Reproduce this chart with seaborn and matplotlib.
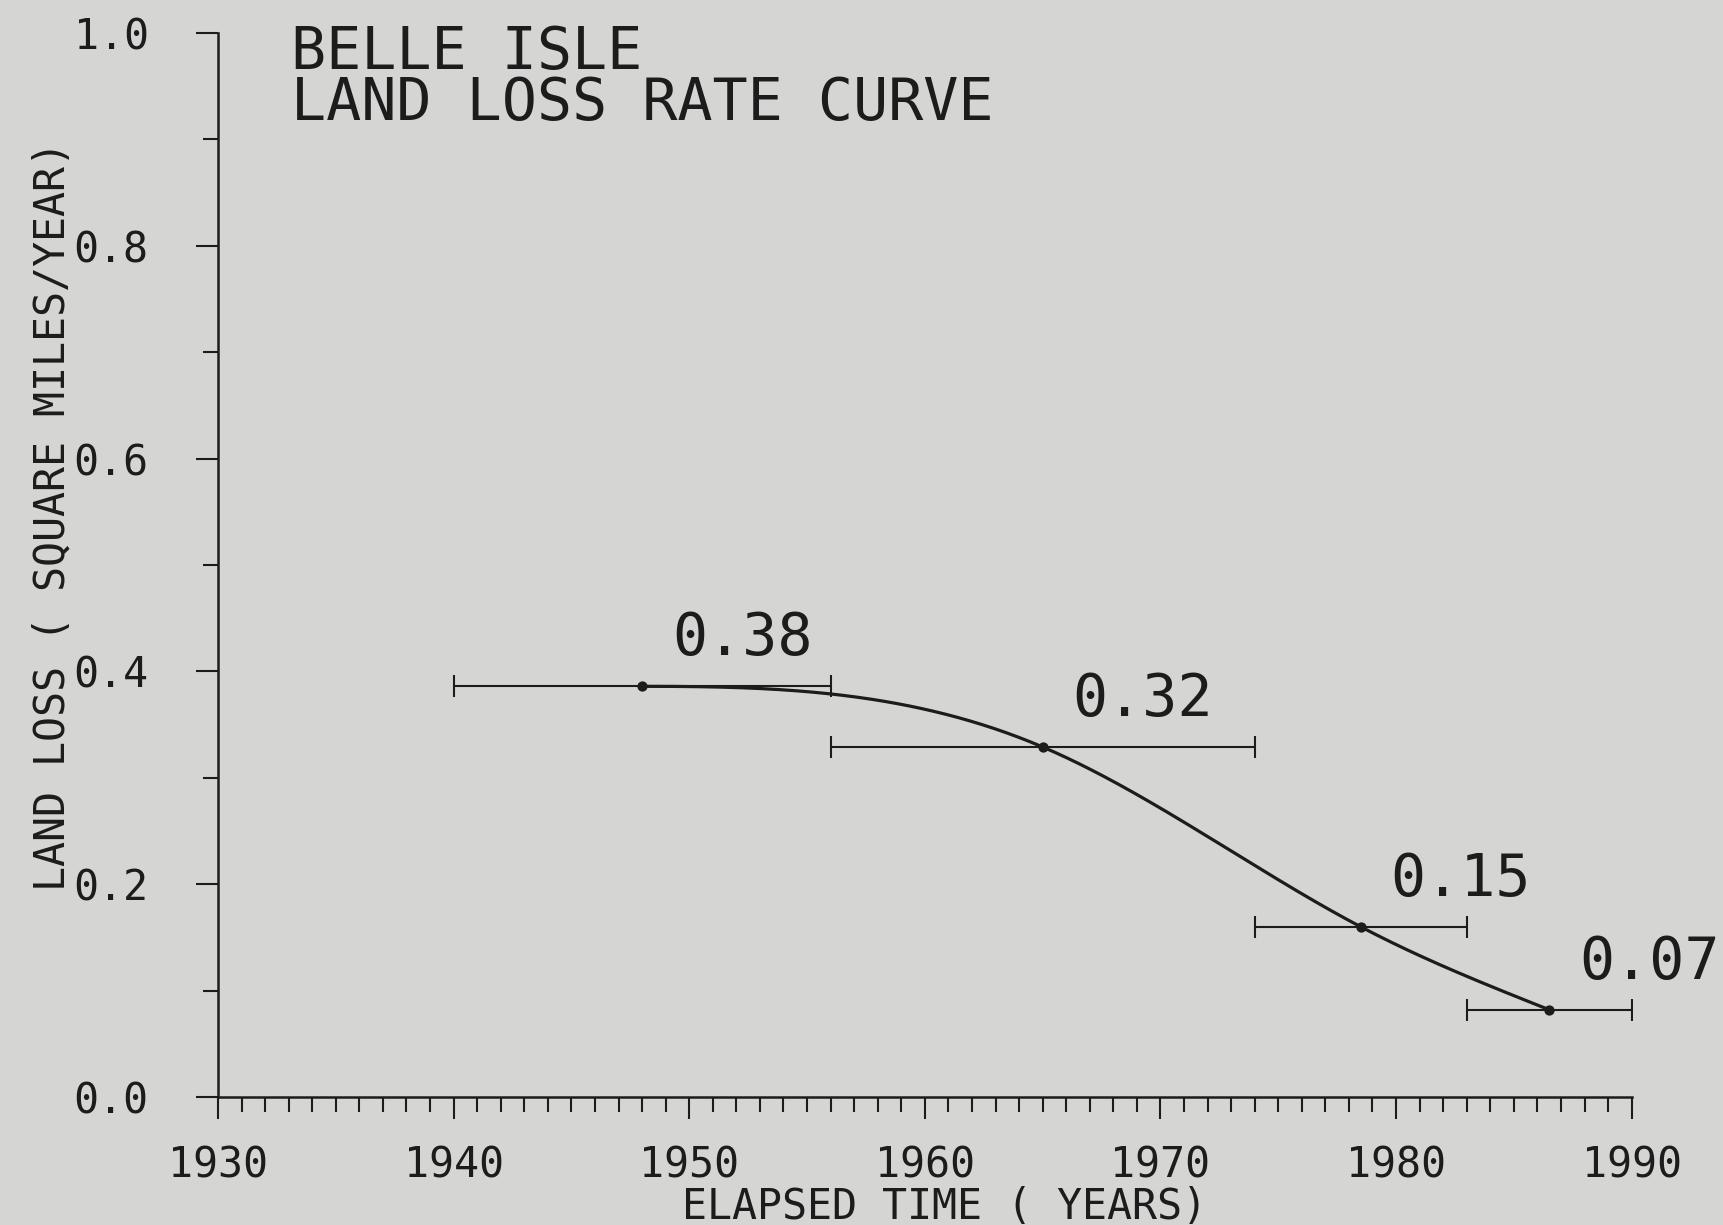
import numpy as np
import pandas as pd
import seaborn as sns
import matplotlib.pyplot as plt
from matplotlib.ticker import MultipleLocator, FormatStrFormatter

# period mid-points and land loss rates
years = [1948, 1965, 1978.5, 1986.5]
rates = [0.386, 0.329, 0.16, 0.082]
period_start = [1940, 1956, 1974, 1983]
period_end = [1956, 1974, 1983, 1990]
rate_labels = ['0.38', '0.32', '0.15', '0.07']

title = 'BELLE ISLE\nLAND LOSS RATE CURVE'
x_label = 'ELAPSED TIME ( YEARS)'
y_label = 'LAND LOSS ( SQUARE MILES/YEAR)'

PAPER = '#d5d5d3'
INK = '#1c1c1c'


def spline_curve(x, y, n=300):
    # cubic spline: flat start, natural end (like the plotter's fitted curve)
    x = np.asarray(x, float)
    y = np.asarray(y, float)
    h = np.diff(x)
    d = np.diff(y) / h
    k = len(x)
    A = np.zeros((k, k))
    b = np.zeros(k)
    A[0, 0] = 1.0
    for i in range(1, k - 1):
        A[i, i - 1] = h[i]
        A[i, i] = 2 * (h[i - 1] + h[i])
        A[i, i + 1] = h[i - 1]
        b[i] = 3 * (h[i] * d[i - 1] + h[i - 1] * d[i])
    A[-1, -2] = 1.0
    A[-1, -1] = 2.0
    b[-1] = 3 * d[-1]
    m = np.linalg.solve(A, b)
    xs = np.linspace(x[0], x[-1], n)
    idx = np.clip(np.searchsorted(x, xs) - 1, 0, len(h) - 1)
    t = (xs - x[idx]) / h[idx]
    h00 = 2 * t**3 - 3 * t**2 + 1
    h10 = t**3 - 2 * t**2 + t
    h01 = -2 * t**3 + 3 * t**2
    h11 = t**3 - t**2
    ys = h00 * y[idx] + h10 * h[idx] * m[idx] + h01 * y[idx + 1] + h11 * h[idx] * m[idx + 1]
    return xs, ys


df = pd.DataFrame({'year': years, 'rate': rates,
                   'start': period_start, 'end': period_end, 'label': rate_labels})

sns.set_theme(style='ticks', rc={
    'figure.facecolor': PAPER, 'axes.facecolor': PAPER,
    'axes.edgecolor': INK, 'axes.linewidth': 1.8,
    'xtick.color': INK, 'ytick.color': INK, 'text.color': INK,
    'axes.labelcolor': INK,
})
plt.rcParams['font.family'] = ['DejaVu Sans Mono', 'DejaVu Sans']

fig = plt.figure(figsize=(17.23, 12.25), dpi=100)
ax = fig.add_axes([0.1265, 0.1045, 0.947 - 0.1265, 0.973 - 0.1045])

# smooth rate curve
cx, cy = spline_curve(df['year'], df['rate'])
sns.lineplot(x=cx, y=cy, ax=ax, color=INK, linewidth=2.3, sort=False)

# horizontal bars showing each photo period
ax.errorbar(df['year'], df['rate'],
            xerr=[df['year'] - df['start'], df['end'] - df['year']],
            fmt='none', ecolor=INK, elinewidth=1.5, capsize=8, capthick=1.5)
sns.scatterplot(data=df, x='year', y='rate', ax=ax, color=INK, s=55,
                edgecolor=INK, linewidth=0, zorder=5)

for _, r in df.iterrows():
    ax.annotate(r['label'], (r['year'], r['rate']), xytext=(30, 31),
                textcoords='offset pixels', fontsize=42, ha='left', va='baseline')

ax.set_xlim(1930, 1990)
ax.set_ylim(0, 1.0)
ax.xaxis.set_major_locator(MultipleLocator(10))
ax.xaxis.set_minor_locator(MultipleLocator(1))
ax.yaxis.set_major_locator(MultipleLocator(0.2))
ax.yaxis.set_minor_locator(MultipleLocator(0.1))
ax.yaxis.set_major_formatter(FormatStrFormatter('%.1f'))
ax.tick_params(axis='both', which='major', direction='out', length=16, width=1.5,
               labelsize=30)
ax.tick_params(axis='both', which='minor', direction='out', length=10.5, width=1.5)
ax.tick_params(axis='x', which='major', pad=18)
ax.tick_params(axis='y', which='major', pad=34)
sns.despine(ax=ax)

ax.set_xlabel(x_label, fontsize=30, va='top')
ax.xaxis.set_label_coords(0.514, -0.084)
ax.set_ylabel(y_label, fontsize=30, va='center')
ax.yaxis.set_label_coords(-0.117, 0.546)

fig.text(291 / 1723, 1 - 24 / 1225, title, fontsize=42, ha='left', va='top',
         linespacing=0.86)

fig.savefig('out.png', dpi=100, facecolor=PAPER)
